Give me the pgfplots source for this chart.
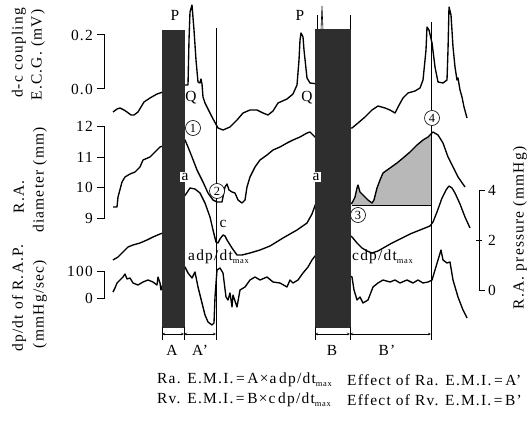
\documentclass[border=0pt]{standalone}
\usepackage{fontspec}
\setmainfont{Liberation Serif}[LetterSpace=8]
\usepackage{pgfplots}
\pgfplotsset{compat=1.18}
\usetikzlibrary{arrows.meta}
\tikzset{
  trace/.style={black, line width=1.35bp, line join=round},
  fine/.style={black, line width=0.6bp},
  lbl/.style={font=\fontsize{15.5}{17}\selectfont, inner sep=0pt},
  circ/.style={circle, draw, line width=0.6bp, fill=white, inner sep=0pt,
    minimum size=15bp, font=\fontsize{12.5}{13}\selectfont},
  tw/.style={{Stealth[length=3bp,width=2.5bp]}-{Stealth[length=3bp,width=2.5bp]}},
}
\newcommand{\mx}{\raisebox{-0.35ex}{\fontsize{8.5}{9}\selectfont max}}
\begin{document}
\begin{tikzpicture}
\begin{axis}[
  width=529bp, height=422bp, scale only axis,
  xmin=0, xmax=529, ymin=0, ymax=422, y dir=reverse,
  hide axis, clip=false,
]
\addplot[draw=none, forget plot] coordinates {(0,0) (529,422)};

% shaded area under R.A. diameter
\addplot[fill=black!28, draw=none] coordinates {
  (352,205) (352,203) (355,197) (357,188) (358,185) (360,192) (363,195)
  (368,200) (372,203) (374,200) (377,188) (380,180) (383,173) (390,168)
  (397,163) (403,158) (410,152) (417,145) (423,140) (428,137) (431,133) (431,205)};
\addplot[fine] coordinates {(352,205) (431,205)};

% E.C.G.
\addplot[trace] coordinates {
  (113,112) (117,109) (120,108) (124,110) (127,112) (131,115) (134,115)
  (138,112) (141,107) (144,102) (150,98) (157,94) (163,92) (166,91)};
\addplot[trace] coordinates {
  (184,85) (188,85) (189,40) (190,12) (192,5) (194,30) (196,60) (198,82)
  (200,83) (201,79) (202,84) (203,97) (205,103) (207,107) (212,117)
  (218,128) (223,130) (230,127) (237,120) (243,113) (250,110) (257,110)
  (263,113) (268,115) (273,111) (278,103) (287,99) (293,94) (297,85)
  (299,60) (300,40) (301,33) (303,37) (304,50) (307,78) (310,83) (318,84)};
\addplot[fine] coordinates {(317,30) (317,15)};
\addplot[fine] coordinates {(321,30) (322,6) (323,30)};
\addplot[fine] coordinates {(350,30) (350,15)};
\addplot[trace] coordinates {
  (348,128) (352,128) (358,123) (365,117) (372,110) (378,106) (385,108)
  (390,110) (395,113) (398,107) (403,98) (408,93) (415,91) (420,88)
  (423,80) (426,50) (427,27) (429,30) (432,43) (435,67) (438,82) (443,83)
  (447,80) (448,50) (449,7) (451,15) (453,47) (455,67) (457,80) (458,78)
  (460,90) (462,97) (464,107) (467,118)};

% R.A. diameter
\addplot[trace] coordinates {
  (113,207) (117,207) (118,197) (122,182) (125,177) (130,174) (135,172)
  (140,167) (143,160) (150,157) (155,152) (160,147) (166,145)};
\addplot[trace] coordinates {
  (183,138) (185,140) (188,147) (192,157) (197,170) (203,182) (208,193)
  (213,200) (217,202) (222,202) (225,187) (227,184) (229,190) (232,192)
  (235,193) (238,200) (242,203) (245,200) (247,187) (250,177) (255,167)
  (260,160) (267,155) (273,150) (280,147) (287,143) (293,140) (300,137)
  (307,133) (310,132) (315,137) (318,139)};
\addplot[trace] coordinates {
  (348,205) (352,203) (355,197) (357,188) (358,185) (360,192) (363,195)
  (368,200) (372,203) (374,200) (377,188) (380,180) (383,173) (390,168)
  (397,163) (403,158) (410,152) (417,145) (423,140) (428,137) (433,132)
  (438,135) (443,143) (448,157) (453,167) (458,177) (465,187)};

% R.A. pressure
\addplot[trace] coordinates {
  (113,260) (118,257) (123,252) (128,247) (133,245) (140,243) (147,240)
  (153,237) (160,234) (166,232)};
\addplot[trace] coordinates {
  (183,198) (186,194) (190,188) (195,189) (200,193) (205,203) (210,217)
  (213,230) (216,242) (218,243) (220,239) (223,235) (225,236) (227,240)
  (232,248) (237,255) (242,255) (250,253) (260,250) (270,246) (283,238)
  (297,230) (307,223) (312,214) (316,203) (318,199)};
\addplot[trace] coordinates {
  (348,234) (352,237) (357,243) (362,248) (367,251) (372,253) (378,251)
  (385,247) (392,243) (400,239) (410,234) (420,230) (430,226) (433,222)
  (437,212) (442,198) (446,190) (449,186) (452,188) (455,193) (460,204)
  (465,217) (470,228)};

% dp/dt of R.A.P.
\addplot[trace] coordinates {
  (113,292) (115,288) (117,283) (120,280) (123,277) (125,274) (127,279)
  (130,278) (133,283) (138,285) (143,282) (148,280) (153,282) (157,285)
  (158,277) (160,283) (161,290) (163,284) (166,283)};
\addplot[trace] coordinates {
  (183,272) (185,267) (188,273) (192,278) (195,272) (198,287) (202,303)
  (205,315) (208,322) (212,325) (214,323) (215,297) (217,270) (220,268)
  (223,273) (226,297) (228,300) (230,293) (232,307) (233,295) (237,307)
  (240,290) (245,287) (250,280) (255,277) (260,280) (267,277) (273,282)
  (280,283) (287,287) (290,280) (293,283) (298,280) (303,273) (308,267)
  (312,260) (315,256) (318,255)};
\addplot[trace] coordinates {
  (348,275) (352,277) (354,290) (357,300) (360,297) (363,303) (368,300)
  (373,287) (378,283) (383,280) (390,282) (395,280) (400,283) (407,280)
  (413,283) (418,280) (423,283) (428,282) (432,280) (435,270) (438,260)
  (441,250) (443,260) (447,263) (450,262) (453,280) (458,297) (463,310)
  (467,318)};

% stimulus bars
\addplot[fill=black!82, draw=black!82] coordinates {(162,30) (184,30) (184,327) (162,327)};
\addplot[fill=black!82, draw=black!82] coordinates {(315,29) (350,29) (350,327) (315,327)};

% measurement lines and brackets
\addplot[fine] coordinates {(216,28) (216,340)};
\addplot[fine] coordinates {(431,22) (431,110)};
\addplot[fine] coordinates {(431,126) (431,340)};
\addplot[fine] coordinates {(162,327) (162,340)};
\addplot[fine] coordinates {(184,327) (184,340)};
\addplot[fine] coordinates {(315,327) (315,340)};
\addplot[fine] coordinates {(350,327) (350,340)};
\addplot[fine, tw] coordinates {(162,334) (184,334)};
\addplot[fine, tw] coordinates {(184,334) (216,334)};
\addplot[fine, tw] coordinates {(315,334) (350,334)};
\addplot[fine, tw] coordinates {(350,334) (431,334)};

% scale bars
\addplot[black, line width=1bp] coordinates {(97,35) (104,35) (104,89) (97,89)};
\addplot[black, line width=1bp] coordinates {(97,126) (104,126) (104,218) (97,218)};
\addplot[black, line width=1bp] coordinates {(97,157) (104,157)};
\addplot[black, line width=1bp] coordinates {(97,187) (104,187)};
\addplot[black, line width=1bp] coordinates {(97,271) (104,271) (104,298) (97,298)};
\addplot[black, line width=1bp] coordinates {(485,190) (479,190) (479,290) (485,290)};
\addplot[black, line width=1bp] coordinates {(476,240) (482,240)};

% scale numbers
\node[lbl, anchor=east] at (axis cs:93,35) {0.2};
\node[lbl, anchor=east] at (axis cs:93,89) {0.0};
\node[lbl, anchor=east] at (axis cs:93,126) {12};
\node[lbl, anchor=east] at (axis cs:93,157) {11};
\node[lbl, anchor=east] at (axis cs:93,187) {10};
\node[lbl, anchor=east] at (axis cs:93,218) {9};
\node[lbl, anchor=east] at (axis cs:93,271) {100};
\node[lbl, anchor=east] at (axis cs:93,298) {0};
\node[lbl, anchor=west] at (axis cs:488,190) {4};
\node[lbl, anchor=west] at (axis cs:488,240) {2};
\node[lbl, anchor=west] at (axis cs:488,290) {0};

% axis titles
\node[lbl, rotate=90] at (axis cs:19,53) {d-c coupling};
\node[lbl, rotate=90] at (axis cs:38,55) {E.C.G. (mV)};
\node[lbl, rotate=90] at (axis cs:19,197) {R.A.};
\node[lbl, rotate=90] at (axis cs:40,180) {diameter (mm)};
\node[lbl, rotate=90] at (axis cs:19,298) {dp/dt of R.A.P.};
\node[lbl, rotate=90] at (axis cs:40,304) {(mmHg/sec)};
\node[lbl, rotate=90] at (axis cs:520,228) {R.A. pressure (mmHg)};

% annotations
\node[lbl] at (axis cs:175,15) {P};
\node[lbl] at (axis cs:300,15) {P};
\node[lbl] at (axis cs:191,98) {Q};
\node[lbl] at (axis cs:307,98) {Q};
\node[lbl, fill=white, inner sep=1.5pt] at (axis cs:185,177) {a};
\node[lbl, fill=white, inner sep=1.5pt] at (axis cs:316,177) {a};
\node[lbl, fill=white, inner sep=1pt] at (axis cs:223,224) {c};
\node[circ] at (axis cs:193,128) {1};
\node[circ] at (axis cs:217,191) {2};
\node[circ] at (axis cs:358,215) {3};
\node[circ] at (axis cs:432,118) {4};
\node[lbl, anchor=west] at (axis cs:188,257) {adp/dt\mx};
\node[lbl, anchor=west] at (axis cs:352,257) {cdp/dt\mx};
\node[lbl] at (axis cs:172,350) {A};
\node[lbl] at (axis cs:200,350) {A'};
\node[lbl] at (axis cs:332,350) {B};
\node[lbl] at (axis cs:387,350) {B'};
\node[lbl, anchor=west] at (axis cs:157,380) {Ra. E.M.I.\,=\,A×a\,dp/dt\mx};
\node[lbl, anchor=west] at (axis cs:157,400) {Rv. E.M.I.\,=\,B×c\,dp/dt\mx};
\node[lbl, anchor=west] at (axis cs:347,380) {Effect of Ra. E.M.I.\,=\,A'};
\node[lbl, anchor=west] at (axis cs:347,400) {Effect of Rv. E.M.I.\,=\,B'};
\end{axis}
\end{tikzpicture}
\end{document}
